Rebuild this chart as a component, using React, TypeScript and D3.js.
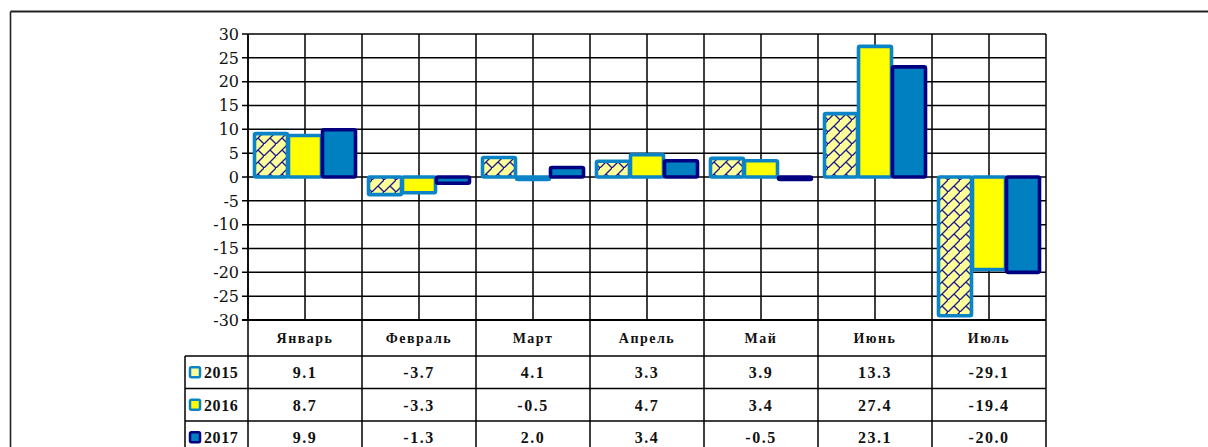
import React from 'react';
import * as d3 from 'd3';

const months = ['Январь', 'Февраль', 'Март', 'Апрель', 'Май', 'Июнь', 'Июль'];
const seriesNames = ['2015', '2016', '2017'];
const values2015 = [9.1, -3.7, 4.1, 3.3, 3.9, 13.3, -29.1];
const values2016 = [8.7, -3.3, -0.5, 4.7, 3.4, 27.4, -19.4];
const values2017 = [9.9, -1.3, 2.0, 3.4, -0.5, 23.1, -20.0];
const yTicks = [30, 25, 20, 15, 10, 5, 0, -5, -10, -15, -20, -25, -30];

const W = 1208;
const H = 447;

// стиль серий: заливка + рамка
const styles = [
  { fill: 'url(#brick)', stroke: '#0a84c6', swatch: '#ffff99' },
  { fill: '#ffff00', stroke: '#0a84c6', swatch: '#ffff00' },
  { fill: '#0080c0', stroke: '#000080', swatch: '#0080c0' },
];

export default function App() {
  const series = [values2015, values2016, values2017];

  const x0 = d3.scaleBand<string>().domain(months).range([248, 1046]).paddingInner(0).paddingOuter(0);
  const x1 = d3.scaleBand<string>().domain(seriesNames).range([6, x0.bandwidth() - 6]).padding(0);
  const y = d3.scaleLinear().domain([-30, 30]).range([320, 34]);

  const left = x0.range()[0];
  const right = x0.range()[1];
  const top = y(30);
  const bottom = y(-30);

  // таблица данных под графиком
  const headerBottom = 356;
  const rowH = 32.5;
  const legendLeft = 185;
  const rowLines = [0, 1, 2].map(i => headerBottom + rowH * (i + 1));

  const vLines: number[] = [];
  months.forEach(m => {
    vLines.push(x0(m)!);
    vLines.push(x0(m)! + x0.bandwidth() / 2);
  });
  vLines.push(right);

  const serif = '"DejaVu Serif", serif';
  const tableFont = '"Liberation Serif", serif';

  return (
    <svg
      width={W}
      height={H}
      style={{ position: 'absolute', left: 0, top: 0, background: '#fff' }}
    >
      <defs>
        <pattern id="brick" patternUnits="userSpaceOnUse" width={12} height={12}>
          <rect width={12} height={12} fill="#ffff99" />
          <path d="M-1,13 L13,-1" stroke="#1a1a8c" strokeWidth={1.3} />
          <path d="M6,6 L12,12" stroke="#1a1a8c" strokeWidth={1.3} />
        </pattern>
      </defs>

      {/* рамка */}
      <line x1={10.5} x2={W} y1={11.5} y2={11.5} stroke="#222" strokeWidth={1.8} />
      <line x1={10.5} x2={10.5} y1={11.5} y2={H} stroke="#222" strokeWidth={1.6} />

      {/* сетка */}
      {yTicks.map(t => (
        <line key={'h' + t} x1={left - 6} x2={right} y1={y(t)} y2={y(t)} stroke="#000" strokeWidth={1.5} />
      ))}
      {vLines.map((v, i) => (
        <line key={'v' + i} x1={v} x2={v} y1={top} y2={bottom} stroke="#000" strokeWidth={1.5} />
      ))}
      {yTicks.map(t => (
        <text
          key={'t' + t}
          x={left - 9}
          y={y(t)}
          dy="0.36em"
          textAnchor="end"
          fontFamily={serif}
          fontSize={16}
          fill="#111"
        >
          {t}
        </text>
      ))}

      {/* столбцы */}
      {series.map((vals, si) =>
        vals.map((v, mi) => {
          const bx = x0(months[mi])! + x1(seriesNames[si])!;
          const y0 = y(Math.max(0, v));
          const y1 = y(Math.min(0, v));
          return (
            <rect
              key={si + '-' + mi}
              x={bx + 0.5}
              y={y0}
              width={x1.bandwidth() - 1}
              height={Math.max(y1 - y0, 0.5)}
              fill={styles[si].fill}
              stroke={styles[si].stroke}
              strokeWidth={3.6}
              strokeLinejoin="round"
              rx={1.5}
            />
          );
        })
      )}

      {/* таблица */}
      <line x1={left} x2={left} y1={top} y2={H} stroke="#000" strokeWidth={1.5} />
      {months.map(m => (
        <line key={'c' + m} x1={x0(m)! + x0.bandwidth()} x2={x0(m)! + x0.bandwidth()} y1={bottom} y2={H} stroke="#000" strokeWidth={1.5} />
      ))}
      <line x1={legendLeft} x2={legendLeft} y1={headerBottom} y2={H} stroke="#000" strokeWidth={1.5} />
      <line x1={left - 6} x2={right} y1={bottom} y2={bottom} stroke="#000" strokeWidth={1.8} />
      <line x1={legendLeft} x2={right} y1={headerBottom} y2={headerBottom} stroke="#000" strokeWidth={1.5} />
      {rowLines.slice(0, 2).map((ry, i) => (
        <line key={'r' + i} x1={legendLeft} x2={right} y1={ry} y2={ry} stroke="#000" strokeWidth={1.5} />
      ))}

      {months.map(m => (
        <text
          key={'m' + m}
          x={x0(m)! + x0.bandwidth() / 2}
          y={(bottom + headerBottom) / 2}
          dy="0.36em"
          textAnchor="middle"
          fontFamily={tableFont}
          fontWeight="bold"
          fontSize={14}
          letterSpacing={1.5}
          fill="#111"
        >
          {m}
        </text>
      ))}

      {series.map((vals, si) => {
        const cy = headerBottom + rowH * si + rowH / 2;
        return (
          <g key={'row' + si}>
            <rect
              x={legendLeft + 5}
              y={cy - 5}
              width={10}
              height={10}
              fill={styles[si].swatch}
              stroke={styles[si].stroke}
              strokeWidth={2.5}
              rx={1.5}
            />
            <text
              x={legendLeft + 19}
              y={cy}
              dy="0.36em"
              fontFamily={tableFont}
              fontWeight="bold"
              fontSize={16}
              letterSpacing={0.6}
              fill="#111"
            >
              {seriesNames[si]}
            </text>
            {vals.map((v, mi) => (
              <text
                key={mi}
                x={x0(months[mi])! + x0.bandwidth() / 2}
                y={cy}
                dy="0.36em"
                textAnchor="middle"
                fontFamily={tableFont}
                fontWeight="bold"
                fontSize={16}
                letterSpacing={1.5}
                fill="#111"
              >
                {v.toFixed(1)}
              </text>
            ))}
          </g>
        );
      })}
    </svg>
  );
}
